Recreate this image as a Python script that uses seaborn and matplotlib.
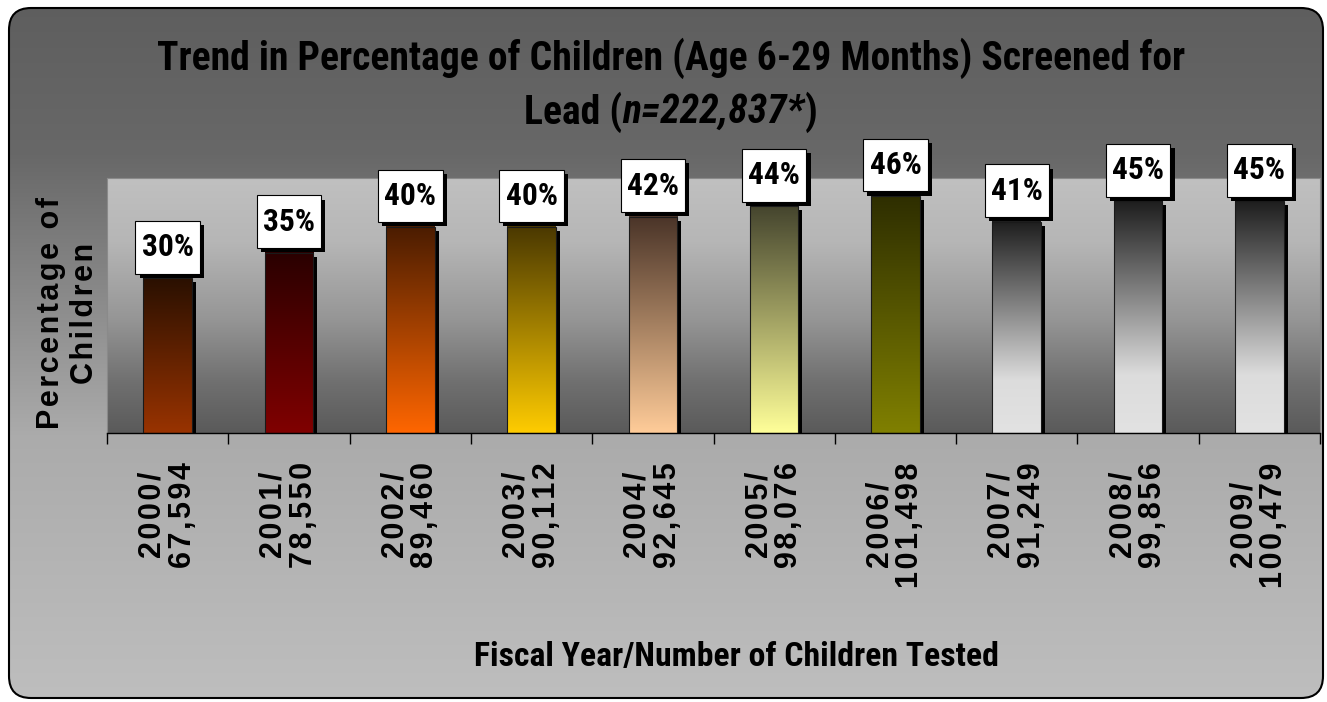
import numpy as np
import pandas as pd
import matplotlib
matplotlib.use("Agg")
import matplotlib.pyplot as plt
import seaborn as sns
import matplotlib.transforms as mtransforms
import matplotlib.patheffects as pe
from matplotlib.patches import FancyBboxPatch, Rectangle
from matplotlib.path import Path
from matplotlib.colors import to_rgb
from matplotlib import font_manager as fm

# ---------------- data ----------------
fiscal_years = ["2000", "2001", "2002", "2003", "2004", "2005", "2006", "2007", "2008", "2009"]
children_tested = ["67,594", "78,550", "89,460", "90,112", "92,645", "98,076", "101,498", "91,249", "99,856", "100,479"]
percent_screened = [30, 35, 40, 40, 42, 44, 46, 41, 45, 45]

title_line1 = "Trend in Percentage of Children (Age 6-29 Months) Screened for"
title_line2 = ["Lead (", "n=222,837*", ")"]
x_title = "Fiscal Year/Number of Children Tested"
y_title = "Percentage of\nChildren"

# gradient stops for each bar (top -> bottom)
bar_gradients = [
    [(0.0, "#2a1000"), (1.0, "#993300")],
    [(0.0, "#2a0000"), (1.0, "#800000")],
    [(0.0, "#4a1c00"), (1.0, "#ff6600")],
    [(0.0, "#4a3800"), (1.0, "#ffcc00")],
    [(0.0, "#4a3428"), (1.0, "#ffcc99")],
    [(0.0, "#45452e"), (1.0, "#ffff99")],
    [(0.0, "#2e2e00"), (1.0, "#808000")],
    [(0.0, "#1e1e1e"), (0.75, "#dcdcdc"), (1.0, "#e2e2e2")],
    [(0.0, "#1e1e1e"), (0.75, "#dcdcdc"), (1.0, "#e2e2e2")],
    [(0.0, "#1e1e1e"), (0.75, "#dcdcdc"), (1.0, "#e2e2e2")],
]

sns.set_theme(style="white")
names = {f.name for f in fm.fontManager.ttflist}
NARROW, STRETCH = "Liberation Sans", "normal"
for cand in ["Liberation Sans Narrow", "Roboto Condensed", "Open Sans Condensed", "Noto Sans Condensed"]:
    if cand in names:
        NARROW, STRETCH = cand, "normal"
        break
else:
    if any(f.name == "DejaVu Sans" and str(f.stretch) in ("condensed", "semi-condensed")
           for f in fm.fontManager.ttflist):
        NARROW, STRETCH = "DejaVu Sans", "condensed"
ARIAL = ["Liberation Sans", "DejaVu Sans"]
plt.rcParams["font.family"] = ARIAL
plt.rcParams["text.color"] = "black"
plt.rcParams["xtick.color"] = "black"
plt.rcParams["xtick.labelcolor"] = "black"


def grad(stops, n=256):
    pos = np.array([s[0] for s in stops])
    cols = np.array([to_rgb(s[1]) for s in stops])
    t = np.linspace(0, 1, n)
    arr = np.stack([np.interp(t, pos, cols[:, k]) for k in range(3)], axis=-1)
    return arr[:, None, :]


def spaced(s, sep="\u200a"):
    return sep.join(list(s))


def label_box(x0, y0, width, height, mutation_size):
    """Square box with separate horizontal / vertical padding."""
    px, py = 0.2 * mutation_size, 0.36 * mutation_size
    x0, y0 = x0 - px, y0 - py
    x1, y1 = x0 + width + 2 * px, y0 + height + 2 * py
    return Path([(x0, y0), (x1, y0), (x1, y1), (x0, y1), (x0, y0)], closed=True)


W, H = 1327, 702
fig = plt.figure(figsize=(W / 100, H / 100), dpi=100)
fig.patch.set_facecolor("white")
renderer = fig.canvas.get_renderer()


def fit_width(txt, target_px):
    w = txt.get_window_extent(renderer).width
    txt.set_fontsize(txt.get_fontsize() * target_px / w)
    return txt.get_fontsize()


# background (pixel coordinates)
bg = fig.add_axes([0, 0, 1, 1], zorder=-10)
bg.axis("off")
frame = FancyBboxPatch((9, 8), 1314, 690, boxstyle="round,pad=0,rounding_size=22",
                       fc="none", ec="black", lw=1.5, zorder=5)
bg.add_patch(frame)
im = bg.imshow(grad([(0.0, "#5e5e5e"), (0.22, "#686868"), (0.62, "#ababab"), (1.0, "#bebebe")]),
               extent=(0, W, H, 0), aspect="auto", interpolation="bilinear", zorder=0)
im.set_clip_path(frame)
L, R, T, B = 107, 1320, 178, 433
bg.imshow(grad([(0.0, "#c0c0c0"), (0.25, "#b6b6b6"), (0.55, "#969696"), (0.8, "#707070"), (1.0, "#5a5a5a")]),
          extent=(L, R, B, T), aspect="auto", interpolation="bilinear", zorder=1)
bg.set_xlim(0, W)
bg.set_ylim(H, 0)

# main axes
ax = fig.add_axes([L / W, 1 - B / H, (R - L) / W, (B - T) / H])
ax.set_facecolor("none")
tick_labels = [spaced(y + "/") + "\n" + spaced(n) for y, n in zip(fiscal_years, children_tested)]
df = pd.DataFrame({"label": tick_labels, "pct": percent_screened})
sns.barplot(data=df, x="label", y="pct", ax=ax, width=0.4, color="white", saturation=1)
ax.set_xlim(-0.5, len(fiscal_years) - 0.5)
ax.set_ylim(0, 49.5)

# percent-label font size: fit "30%" to ~52 px wide
probe = fig.text(0, 0, "30%", fontsize=23, fontweight="bold", family=[NARROW, "DejaVu Sans"],
                 fontstretch=STRETCH)
lab_fs = fit_width(probe, 52)
probe.remove()

shadow_off = mtransforms.ScaledTranslation(4 / 100, -4 / 100, fig.dpi_scale_trans)
bars = list(ax.patches)
for i, p in enumerate(bars):
    x0, w, h = p.get_x(), p.get_width(), p.get_height()
    sh = Rectangle((x0, 0), w, h, transform=ax.transData + shadow_off,
                   fc="black", ec="none", zorder=1.5)
    ax.add_patch(sh)
    ax.imshow(grad(bar_gradients[i]), extent=(x0, x0 + w, 0, h), aspect="auto",
              interpolation="bilinear", zorder=2)
    p.set_facecolor("none")
    p.set_edgecolor("#1a1a1a")
    p.set_linewidth(0.8)
    p.set_zorder(3)
    t = ax.annotate(f"{percent_screened[i]}%", xy=(x0 + w / 2, h), xytext=(0, 16),
                    textcoords="offset pixels", ha="center", va="bottom",
                    fontsize=lab_fs, fontweight="bold", family=[NARROW, "DejaVu Sans"],
                    fontstretch=STRETCH, color="black",
                    bbox=dict(boxstyle=label_box, fc="white", ec="black", lw=0.8),
                    zorder=6, annotation_clip=False)
    t.get_bbox_patch().set_path_effects(
        [pe.SimplePatchShadow(offset=(3, -3), shadow_rgbFace="black", alpha=1.0), pe.Normal()])

ax.set_xlim(-0.5, len(fiscal_years) - 0.5)
ax.set_ylim(0, 49.5)
ax.set_yticks([])
ax.set_xticks(range(len(fiscal_years)))
ax.set_xticklabels(tick_labels, rotation=90, va="top", ha="center", multialignment="center",
                   fontsize=22, fontweight="bold", linespacing=1.0, color="black", family=ARIAL)
ax.set_xticks(np.arange(-0.5, len(fiscal_years), 1.0), minor=True)
ax.tick_params(axis="x", which="major", length=0, pad=21)
ax.tick_params(axis="x", which="minor", length=8, width=1, color="black", direction="out", bottom=True)
ax.set_xlabel("")
ax.set_ylabel("")
for s in ["left", "top", "right"]:
    ax.spines[s].set_color("#8a8a8a")
    ax.spines[s].set_linewidth(0.8)
ax.spines["bottom"].set_color("black")
ax.spines["bottom"].set_linewidth(1.0)

# titles
tt1 = fig.text(671 / W, 1 - 58 / H, title_line1, ha="center", va="center", fontsize=30,
               fontweight="bold", family=[NARROW, "DejaVu Sans"], fontstretch=STRETCH, color="black")
title_fs = fit_width(tt1, 1030)
xt = fig.text(736 / W, 1 - 657 / H, x_title, ha="center", va="center", fontsize=24,
              fontweight="bold", family=[NARROW, "DejaVu Sans"], fontstretch=STRETCH, color="black")
fit_width(xt, 526)
fig.text(68 / W, 1 - 313 / H, "\n".join(spaced(s) for s in y_title.split("\n")), rotation=90,
         ha="center", va="center", multialignment="center", fontsize=22, fontweight="bold",
         color="black", family=ARIAL, linespacing=1.15)

styles = ["normal", "italic", "normal"]
pieces = []
for txt, st in zip(title_line2, styles):
    pieces.append(fig.text(0, 1 - 112 / H, txt, ha="left", va="center", fontsize=title_fs,
                           fontweight="bold", fontstyle=st, family=[NARROW, "DejaVu Sans"],
                           fontstretch=STRETCH, color="black"))
widths = [p.get_window_extent(renderer).width for p in pieces]
xpix = 671 - sum(widths) / 2
for p, wd in zip(pieces, widths):
    p.set_x(xpix / W)
    xpix += wd

fig.savefig("out.png", dpi=100)
